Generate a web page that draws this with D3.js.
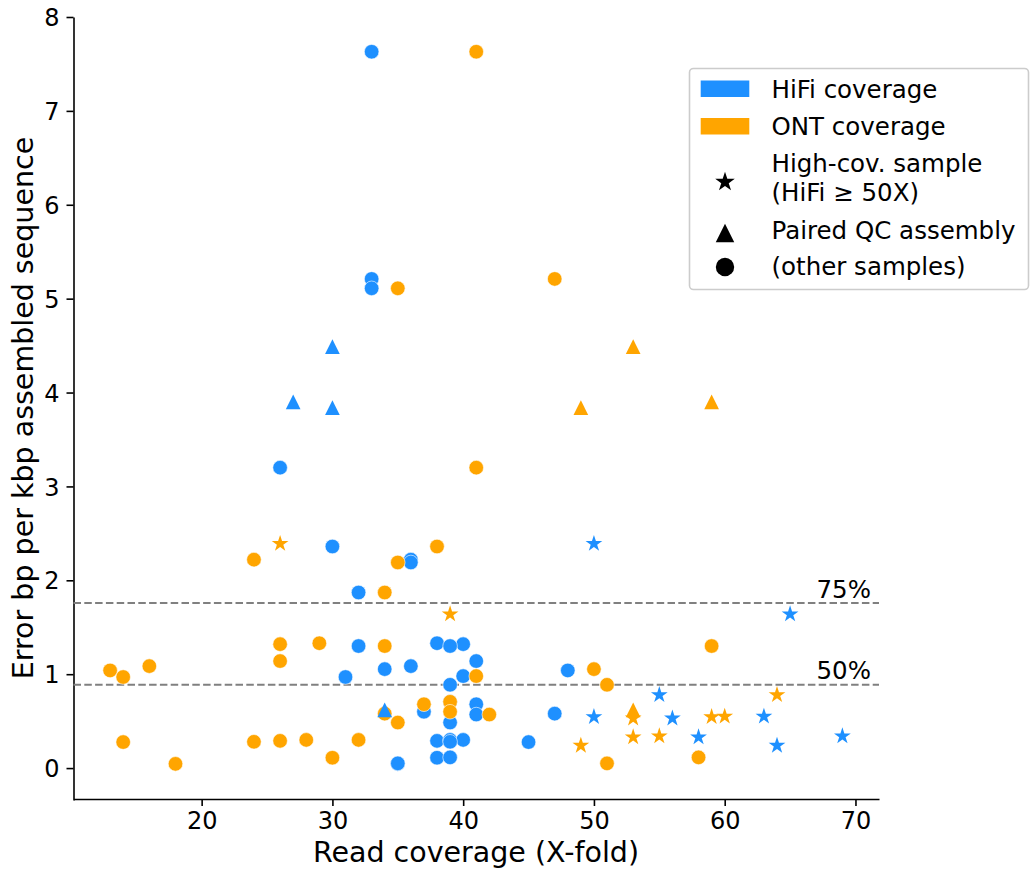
<!DOCTYPE html>
<html>
<head>
<meta charset="utf-8">
<script src="https://cdn.jsdelivr.net/npm/d3@7"></script>
<style>
  html, body { margin: 0; padding: 0; background: #ffffff; }
  svg { display: block; font-family: "DejaVu Sans", sans-serif; }
</style>
</head>
<body>
<svg id="chart" width="1031" height="870"></svg>
<script>
// Per-sample assembly error rates with the HiFi and ONT read coverage of each sample
const hifiCoverage = [
  33, 33, 33, 26, 30, 36, 36, 32, 38, 40, 32, 39, 41, 36, 34, 48, 31, 40, 39, 39,
  41, 37, 47, 41, 39, 38, 39, 40, 45, 39, 38, 39, 35, 35,
  30, 27, 30, 34,
  50, 65, 55, 50, 56, 63, 58, 69, 64
];
const ontCoverage = [
  41, 47, 35, 41, 38, 24, 35, 34, 29, 26, 34, 59, 26, 16, 50, 13, 14, 41, 51, 39,
  37, 39, 34, 42, 35, 26, 28, 32, 14, 24, 30, 58, 18, 51,
  53, 59, 49, 53,
  26, 39, 64, 59, 53, 60, 53, 55, 49
];
const errorPerKbp = [
  7.63, 5.21, 5.11, 3.20, 2.36, 2.22, 2.19, 1.87, 1.33, 1.32, 1.30, 1.30, 1.14, 1.086, 1.054, 1.04, 0.97, 0.98, 0.887, 0.706,
  0.68, 0.60, 0.58, 0.57, 0.485, 0.29, 0.30, 0.30, 0.277, 0.28, 0.11, 0.114, 0.045, 0.05,
  4.49, 3.90, 3.84, 0.62,
  2.39, 1.64, 0.78, 0.545, 0.53, 0.55, 0.33, 0.34, 0.24
];
// "other" = regular sample, "paired" = paired QC assembly, "high" = HiFi >= 50X
const sampleGroup = [
  "other", "other", "other", "other", "other", "other", "other", "other", "other", "other",
  "other", "other", "other", "other", "other", "other", "other", "other", "other", "other",
  "other", "other", "other", "other", "other", "other", "other", "other", "other", "other",
  "other", "other", "other", "other",
  "paired", "paired", "paired", "paired",
  "high", "high", "high", "high", "high", "high", "high", "high", "high"
];

// Quantile reference lines of the error rate
const quantileValues = [1.757, 0.887];
const quantileLabels = ["75%", "50%"];

const xTicks = [20, 30, 40, 50, 60, 70];
const yTicks = [0, 1, 2, 3, 4, 5, 6, 7, 8];

const coverageTypes = ["HiFi coverage", "ONT coverage"];
const coverageColors = ["#1e90ff", "#ffa500"];
const shapeLabels = [["High-cov. sample", "(HiFi \u2265 50X)"], ["Paired QC assembly"], ["(other samples)"]];
const shapeKeys = ["high", "paired", "other"];

const svg = d3.select("#chart");

const x = d3.scaleLinear().domain([10.2, 71.8]).range([73.5, 879]);
const y = d3.scaleLinear().domain([-0.34, 8.0]).range([800, 17]);

// Marker path builders (centered on the origin)
function starPath(r) {
  const inner = r * 0.381966;
  const pts = [];
  for (let i = 0; i < 10; i++) {
    const rad = i % 2 === 0 ? r : inner;
    const a = -Math.PI / 2 + i * Math.PI / 5;
    pts.push([rad * Math.cos(a), rad * Math.sin(a)]);
  }
  return "M" + pts.map(p => p[0].toFixed(2) + "," + p[1].toFixed(2)).join("L") + "Z";
}
function trianglePath(s) {
  const h = s / 2;
  return `M0,${-h}L${-h},${h}L${h},${h}Z`;
}
function circlePath(r) {
  return `M${r},0A${r},${r} 0 1,1 ${-r},0A${r},${r} 0 1,1 ${r},0Z`;
}
const markerPath = {
  other: circlePath(7.3),
  paired: trianglePath(14.7),
  high: starPath(8.8)
};
const legendMarkerPath = {
  other: circlePath(9.2),
  paired: trianglePath(18.5),
  high: starPath(10.3)
};

// Axes
const xAxis = svg.append("g")
  .attr("transform", "translate(0,799)")
  .call(d3.axisBottom(x).tickValues(xTicks).tickSize(7).tickSizeOuter(0).tickPadding(7));
const yAxis = svg.append("g")
  .attr("transform", "translate(73.5,0)")
  .call(d3.axisLeft(y).tickValues(yTicks).tickSize(7).tickSizeOuter(0).tickPadding(7));

[xAxis, yAxis].forEach(g => {
  g.select(".domain").attr("stroke", "#000").attr("stroke-width", 1.6);
  g.selectAll(".tick line").attr("stroke", "#000").attr("stroke-width", 1.6);
  g.selectAll(".tick text")
    .attr("fill", "#000")
    .style("font-family", "DejaVu Sans")
    .style("font-size", "24px");
});
xAxis.selectAll(".tick text").attr("dy", "0.66em");
yAxis.selectAll(".tick text").attr("dy", "0.36em");

// Quantile lines
const qg = svg.append("g");
quantileValues.forEach((v, i) => {
  qg.append("line")
    .attr("x1", x.range()[0]).attr("x2", x.range()[1])
    .attr("y1", y(v)).attr("y2", y(v))
    .attr("stroke", "#808080")
    .attr("stroke-width", 2)
    .attr("stroke-dasharray", "7.5,3.3");
  qg.append("text")
    .attr("x", 871)
    .attr("y", y(v) - 5.5)
    .attr("text-anchor", "end")
    .attr("fill", "#000")
    .style("font-size", "24.5px")
    .text(quantileLabels[i]);
});

// Points: one HiFi and one ONT mark per sample
const samples = hifiCoverage.map((h, i) => ({
  hifi: h, ont: ontCoverage[i], err: errorPerKbp[i], group: sampleGroup[i]
}));
const drawOrder = ["other", "paired", "high"];
const pg = svg.append("g");
drawOrder.forEach(grp => {
  const subset = samples.filter(d => d.group === grp);
  ["hifi", "ont"].forEach((key, ci) => {
    pg.selectAll(null)
      .data(subset)
      .join("path")
      .attr("d", markerPath[grp])
      .attr("transform", d => `translate(${x(d[key])},${y(d.err)})`)
      .attr("fill", coverageColors[ci])
      .attr("stroke", grp === "other" ? "#ffffff" : "none")
      .attr("stroke-width", 0.6);
  });
});

// Legend
const lg = svg.append("g");
lg.append("rect")
  .attr("x", 689.5).attr("y", 68.5)
  .attr("width", 339).attr("height", 221)
  .attr("rx", 4).attr("ry", 4)
  .attr("fill", "#ffffff").attr("fill-opacity", 0.8)
  .attr("stroke", "#cccccc").attr("stroke-width", 1.6);

const patchY = [80.5, 118];
const textBaselines = [97.5, 135];
coverageTypes.forEach((label, i) => {
  lg.append("rect")
    .attr("x", 700.7).attr("y", patchY[i])
    .attr("width", 48.6).attr("height", 16.5)
    .attr("fill", coverageColors[i]);
  lg.append("text")
    .attr("x", 771.5).attr("y", textBaselines[i])
    .attr("fill", "#000")
    .style("font-size", "24.5px")
    .text(label);
});

const shapeCenters = [182, 233, 267];
const shapeBaselines = [[171.5, 201], [238.5], [275]];
shapeKeys.forEach((key, i) => {
  lg.append("path")
    .attr("d", legendMarkerPath[key])
    .attr("transform", `translate(725,${shapeCenters[i]})`)
    .attr("fill", "#000");
  shapeLabels[i].forEach((line, j) => {
    lg.append("text")
      .attr("x", 771.5).attr("y", shapeBaselines[i][j])
      .attr("fill", "#000")
      .style("font-size", "24.5px")
      .text(line);
  });
});

// Axis titles
svg.append("text")
  .attr("x", 476).attr("y", 862)
  .attr("text-anchor", "middle")
  .attr("fill", "#000")
  .style("font-size", "28.5px")
  .text("Read coverage (X-fold)");
svg.append("text")
  .attr("transform", "translate(33,408) rotate(-90)")
  .attr("text-anchor", "middle")
  .attr("fill", "#000")
  .style("font-size", "28.5px")
  .text("Error bp per kbp assembled sequence");
</script>
</body>
</html>
